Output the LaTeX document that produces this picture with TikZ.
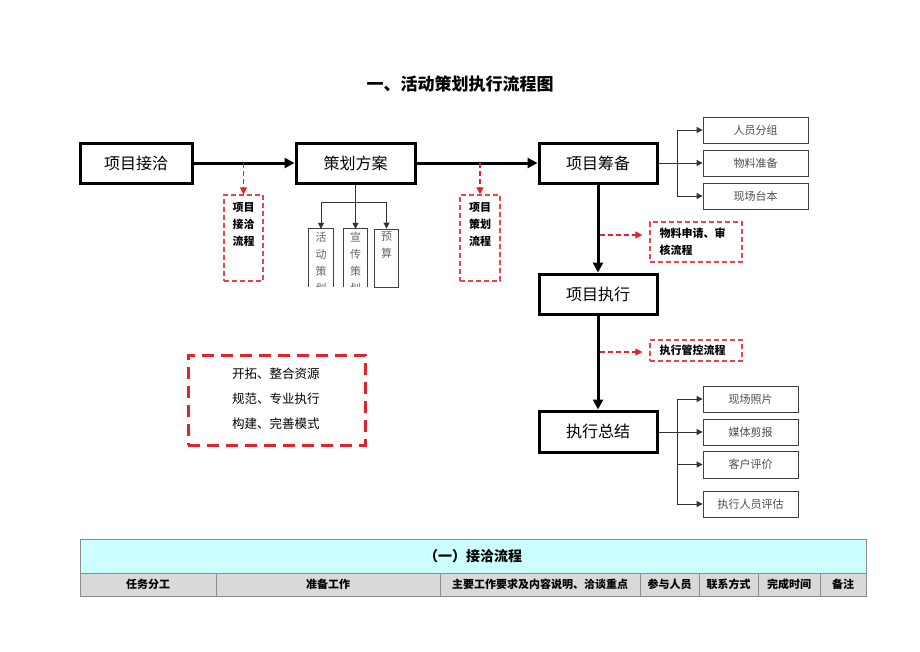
\documentclass[tikz,border=0pt]{standalone}
\usepackage{fontspec}
\setmainfont{Noto Sans CJK SC}
\usetikzlibrary{arrows.meta}
\definecolor{dred}{RGB}{225,35,45}
\definecolor{tcyan}{RGB}{204,255,255}
\definecolor{tgray}{RGB}{217,217,217}
\definecolor{tline}{RGB}{140,140,140}
\begin{document}
\begin{tikzpicture}[x=1pt,y=-1pt,
  mainbox/.style={draw, line width=3pt, minimum height=40pt, inner sep=0pt, font=\fontsize{16}{16}\selectfont},
  bigarrow/.style={line width=3pt, -{Triangle[length=10pt,width=10pt]}},
  thinline/.style={line width=0.8pt, draw=black!80},
  thinarrow/.style={line width=0.8pt, draw=black!80, -{Triangle[length=6pt,width=6pt]}},
  subbox/.style={draw=black!75, line width=0.8pt, minimum height=26pt, inner sep=0pt, text=black!70, font=\fontsize{11}{11}\selectfont},
  vbox/.style={minimum width=24pt, minimum height=58pt, inner sep=0pt},
  vtext/.style={align=center, inner sep=0pt, text=black!60, font=\fontsize{11}{17}\selectfont},
  rdbox/.style={draw=dred!85, dash pattern=on 5pt off 3pt, line width=1.1pt, inner sep=0pt},
  rdarrow/.style={draw=dred, dash pattern=on 5pt off 3pt, line width=1.1pt, -{Triangle[length=7pt,width=7pt]}},
  rdtext/.style={inner sep=0pt, font=\fontsize{11}{17}\bfseries\selectfont},
  cell/.style={inner sep=0pt, font=\fontsize{11}{11}\bfseries\selectfont}
]
\useasboundingbox (0,0) rectangle (920,651);

% title
\node[font=\fontsize{17}{17}\bfseries\selectfont] (title) at (460,84) {一、活动策划执行流程图};

% main boxes
\node[mainbox, minimum width=112pt] (jq) at (136,163) {项目接洽};
\node[mainbox, minimum width=119pt] (ch) at (355.5,163) {策划方案};
\node[mainbox, minimum width=118pt] (cb) at (598,163) {项目筹备};
\node[mainbox, minimum width=118pt] (zx) at (598,294) {项目执行};
\node[mainbox, minimum width=118pt, minimum height=41pt] (zj) at (598,431.5) {执行总结};

\draw[bigarrow] (jq.east) -- (ch.west);
\draw[bigarrow] (ch.east) -- (cb.west);
\draw[bigarrow] (cb.south) -- (zx.north);
\draw[bigarrow] (zx.south) -- (zj.north);

% red dashed side boxes
\node[rdbox, minimum width=39pt, minimum height=86pt] (rd1) at (243.5,238) {};
\node[rdtext, align=center, anchor=north] (rd1t) at ([yshift=-8pt]rd1.north) {项目\\接洽\\流程};
\node[rdbox, minimum width=40pt, minimum height=86pt] (rd2) at (480,238) {};
\node[rdtext, align=center, anchor=north] (rd2t) at ([yshift=-8pt]rd2.north) {项目\\策划\\流程};
\coordinate (a1) at (243.5,163);
\coordinate (a2) at (480,163);
\draw[rdarrow] (a1) -- (rd1.north);
\draw[rdarrow] (a2) -- (rd2.north);

% plan sub boxes
\node[vbox] (v1) at (321,258) {};
\node[vbox] (v2) at (355.5,258) {};
\node[vbox, draw=black!75, line width=0.8pt] (v3) at (386.5,258) {};
\draw[black!75, line width=0.8pt] (v1.south west) -- (v1.north west) -- (v1.north east) -- (v1.south east);
\draw[black!75, line width=0.8pt] (v2.south west) -- (v2.north west) -- (v2.north east) -- (v2.south east);
\begin{scope}
\clip (300,226) rectangle (410,286.5);
\node[vtext, anchor=north] (v1t) at ([yshift=-3pt]v1.north) {活\\动\\策\\划};
\node[vtext, anchor=north] (v2t) at ([yshift=-3pt]v2.north) {宣\\传\\策\\划};
\end{scope}
\node[vtext, anchor=north] (v3t) at ([yshift=-3pt]v3.north) {预\\算};
\coordinate (bj) at (355.5,202);
\draw[thinarrow] (ch.south) -- (v2.north);
\draw[thinarrow] (bj) -| (v1.north);
\draw[thinarrow] (bj) -| (v3.north);

% preparation branch
\node[subbox, minimum width=105pt] (r1) at (755.5,130) {人员分组};
\node[subbox, minimum width=105pt] (r2) at (755.5,163) {物料准备};
\node[subbox, minimum width=105pt] (r3) at (755.5,196) {现场台本};
\coordinate (pj) at (677,163);
\draw[thinline] (cb.east) -- (pj);
\draw[thinarrow] (pj) |- (r1.west);
\draw[thinarrow] (pj) -- (r2.west);
\draw[thinarrow] (pj) |- (r3.west);

% material & control
\node[rdbox, minimum width=92pt, minimum height=40pt] (m1) at (696,242) {};
\node[rdtext, align=left, anchor=north west] (m1t) at ([xshift=10pt,yshift=-6pt]m1.north west) {物料申请、审\\核流程};
\coordinate (c1) at (600,235);
\draw[rdarrow, shorten >=7pt] (c1) -- (c1 -| m1.west);
\node[rdbox, minimum width=92pt, minimum height=21pt] (m2) at (696,350.5) {};
\node[rdtext, anchor=west] (m2t) at ([xshift=10pt]m2.west) {执行管控流程};
\coordinate (c2) at (600,352);
\draw[rdarrow, shorten >=7pt] (c2) -- (c2 -| m2.west);

% summary branch
\node[subbox, minimum width=95pt] (s1) at (750.5,399) {现场照片};
\node[subbox, minimum width=95pt] (s2) at (750.5,432) {媒体剪报};
\node[subbox, minimum width=95pt, minimum height=27pt] (s3) at (750.5,464.5) {客户评价};
\node[subbox, minimum width=95pt] (s4) at (750.5,504) {执行人员评估};
\coordinate (sj) at (677,432);
\draw[thinline] (zj.east |- sj) -- (sj);
\draw[thinarrow] (sj) |- (s1.west);
\draw[thinarrow] (sj) -- (s2.west);
\draw[thinarrow] (sj) |- (s3.west);
\draw[thinarrow] (sj) |- (s4.west);

% big red dashed box
\node[draw=dred, line width=3pt, dash pattern=on 12pt off 7pt, minimum width=177pt, minimum height=90pt] (bigbox) at (276.5,400) {};
\node[anchor=west, align=left, inner sep=0pt, font=\fontsize{12.5}{25}\selectfont] (bigt) at (232,399) {开拓、整合资源\\规范、专业执行\\构建、完善模式};

% table
\fill[tcyan] (80,539) rectangle (866,573);
\fill[tgray] (80,573) rectangle (866,596);
\draw[tline, line width=0.8pt] (80,539) rectangle (866,596);
\draw[tline, line width=0.8pt] (80,573) -- (866,573);
\foreach \x in {216,440,640,699,758,820} \draw[tline, line width=0.8pt] (\x,573) -- (\x,596);
\node[inner sep=0pt, font=\fontsize{14}{14}\bfseries\selectfont] (th) at (473,556) {（一）接洽流程};
\node[cell] (c1t) at (148,584.5) {任务分工};
\node[cell] (c2t) at (328,584.5) {准备工作};
\node[cell] (c3t) at (540,584.5) {主要工作要求及内容说明、洽谈重点};
\node[cell] (c4t) at (669.5,584.5) {参与人员};
\node[cell] (c5t) at (728.5,584.5) {联系方式};
\node[cell] (c6t) at (789,584.5) {完成时间};
\node[cell] (c7t) at (843,584.5) {备注};
\end{tikzpicture}
\end{document}
